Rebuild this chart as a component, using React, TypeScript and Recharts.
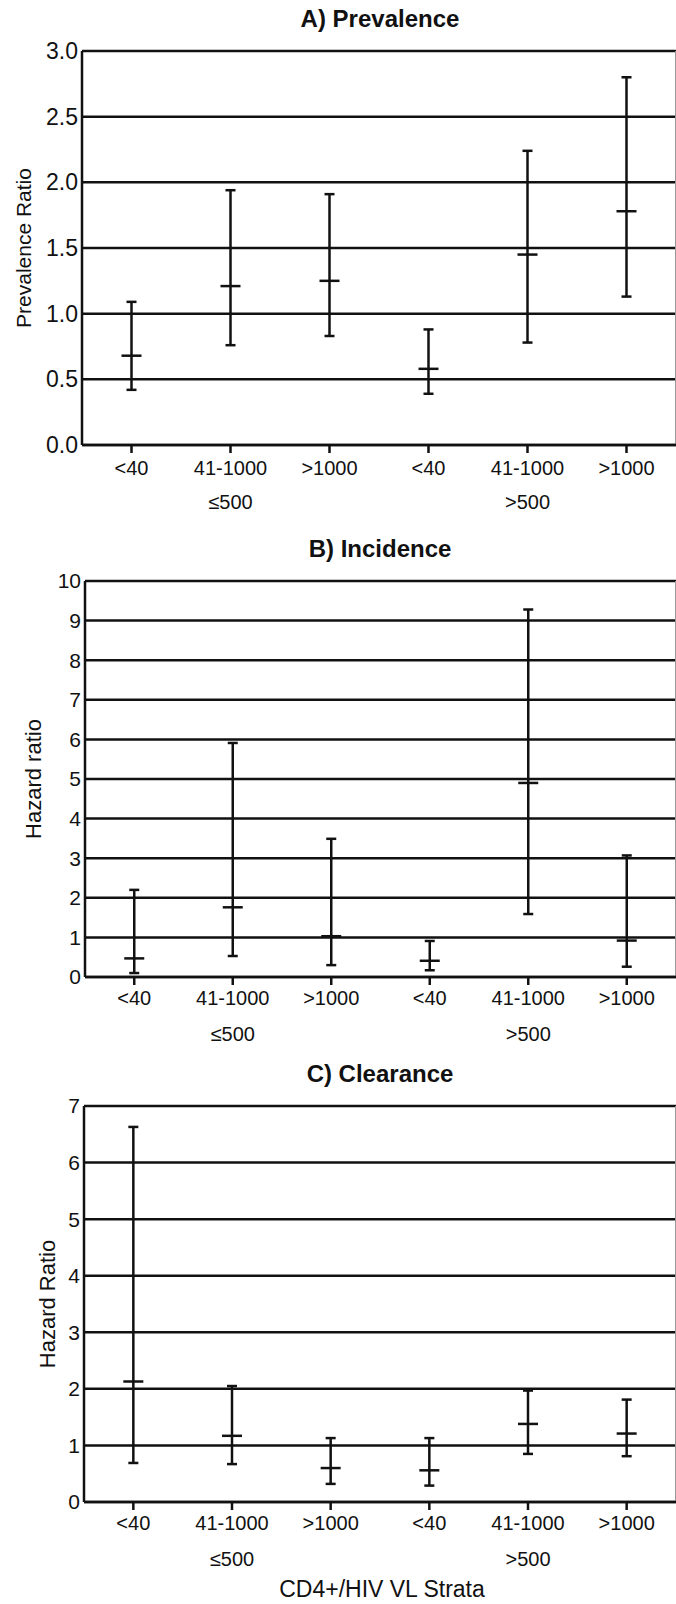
import React from 'react';
import { ComposedChart, Scatter, ErrorBar, XAxis, YAxis, CartesianGrid, ReferenceLine } from 'recharts';

// x categories: viral load strata, grouped by CD4+ count
const STRATA = ['<40', '41-1000', '>1000', '<40', '41-1000', '>1000'];
const CD4_GROUPS = ['≤500', '>500'];

// A) Prevalence ratio with 95% CI
const PREV_RATIO = [0.68, 1.21, 1.25, 0.58, 1.45, 1.78];
const PREV_LOW = [0.42, 0.76, 0.83, 0.39, 0.78, 1.13];
const PREV_HIGH = [1.09, 1.94, 1.91, 0.88, 2.24, 2.8];
const PREV_TICKS = [0, 0.5, 1, 1.5, 2, 2.5, 3];

// B) Incidence hazard ratio with 95% CI
const INC_HR = [0.47, 1.76, 1.03, 0.41, 4.9, 0.92];
const INC_LOW = [0.1, 0.53, 0.3, 0.17, 1.59, 0.26];
const INC_HIGH = [2.2, 5.91, 3.49, 0.91, 9.28, 3.07];
const INC_TICKS = [0, 1, 2, 3, 4, 5, 6, 7, 8, 9, 10];

// C) Clearance hazard ratio with 95% CI
const CLR_HR = [2.13, 1.17, 0.6, 0.56, 1.38, 1.21];
const CLR_LOW = [0.69, 0.67, 0.32, 0.29, 0.85, 0.81];
const CLR_HIGH = [6.63, 2.05, 1.13, 1.13, 1.97, 1.81];
const CLR_TICKS = [0, 1, 2, 3, 4, 5, 6, 7];

const FONT = "'Liberation Sans', Arial, Helvetica, sans-serif";
const INK = '#111';
const W = 676;
const PLOT_TOP = 51;
const X_AXIS_H = 40;
const GROUP_AXIS_H = 30;

type PanelProps = {
  top: number;
  height: number;
  plotHeight: number;
  title: string;
  yLabel: string;
  mid: number[];
  low: number[];
  high: number[];
  ticks: number[];
  decimals: number;
  yAxisWidth: number;
  yTickFont: number;
  yLabelX: number;
  yLabelFont: number;
  tickMargin: number;
  xTitle?: string;
};

function MeanMark(props: any) {
  const { cx, cy } = props;
  if (cx == null || cy == null) return null;
  return <line x1={cx - 10} x2={cx + 10} y1={cy} y2={cy} stroke={INK} strokeWidth={2.5} />;
}

function groupLabel(i: number) {
  return i % 3 === 1 ? CD4_GROUPS[Math.floor(i / 3)] : '';
}

function Panel(p: PanelProps) {
  const rows = STRATA.map((s, i) => ({
    idx: i,
    mid: p.mid[i],
    ci: [p.mid[i] - p.low[i], p.high[i] - p.mid[i]],
  }));
  const max = p.ticks[p.ticks.length - 1];
  const bottom = p.height - PLOT_TOP - p.plotHeight - X_AXIS_H - GROUP_AXIS_H;
  const yMid = PLOT_TOP + p.plotHeight / 2;

  return (
    <div style={{ position: 'absolute', left: 0, top: p.top, width: W, height: p.height }}>
      <ComposedChart
        width={W}
        height={p.height}
        data={rows}
        margin={{ top: PLOT_TOP, right: 0, left: 0, bottom }}
      >
        <CartesianGrid vertical={false} stroke={INK} strokeWidth={2.5} />
        <XAxis
          dataKey="idx"
          type="number"
          domain={[-0.5, 5.5]}
          ticks={[0, 1, 2, 3, 4, 5]}
          tickFormatter={(v) => STRATA[v]}
          height={X_AXIS_H}
          tickSize={8}
          tickMargin={p.tickMargin}
          axisLine={{ stroke: INK, strokeWidth: 2.5 }}
          tickLine={{ stroke: INK, strokeWidth: 2.5 }}
          tick={{ fill: INK, fontSize: 20, fontFamily: FONT }}
          interval={0}
        />
        <XAxis
          xAxisId="group"
          dataKey="idx"
          type="number"
          domain={[-0.5, 5.5]}
          ticks={[0, 1, 2, 3, 4, 5]}
          tickFormatter={(v) => groupLabel(v)}
          height={GROUP_AXIS_H}
          tickSize={0}
          tickMargin={10}
          axisLine={false}
          tickLine={false}
          tick={{ fill: INK, fontSize: 20, fontFamily: FONT }}
          interval={0}
        />
        <YAxis
          type="number"
          domain={[0, max]}
          ticks={p.ticks}
          tickFormatter={(v) => Number(v).toFixed(p.decimals)}
          width={p.yAxisWidth}
          tickSize={0}
          tickMargin={4}
          axisLine={{ stroke: INK, strokeWidth: 2.5 }}
          tickLine={false}
          tick={{ fill: INK, fontSize: p.yTickFont, fontFamily: FONT }}
          interval={0}
          allowDataOverflow
        />
        {/* faint right frame edge */}
        <ReferenceLine x={5.5} stroke="#999" strokeWidth={2} />
        <Scatter dataKey="mid" shape={MeanMark} isAnimationActive={false}>
          <ErrorBar
            dataKey="ci"
            direction="y"
            width={5}
            stroke={INK}
            strokeWidth={2.5}
            isAnimationActive={false}
          />
        </Scatter>
      </ComposedChart>
      <svg
        width={W}
        height={p.height}
        style={{ position: 'absolute', left: 0, top: 0, pointerEvents: 'none' }}
      >
        <text
          x={380}
          y={PLOT_TOP - 24}
          textAnchor="middle"
          fontFamily={FONT}
          fontWeight="bold"
          fontSize={24}
          fill={INK}
        >
          {p.title}
        </text>
        <text
          x={p.yLabelX}
          y={yMid}
          dy="0.35em"
          textAnchor="middle"
          fontFamily={FONT}
          fontSize={p.yLabelFont}
          fill={INK}
          transform={`rotate(-90, ${p.yLabelX}, ${yMid})`}
        >
          {p.yLabel}
        </text>
        {p.xTitle && (
          <text
            x={382}
            y={PLOT_TOP + p.plotHeight + 95}
            textAnchor="middle"
            fontFamily={FONT}
            fontSize={23}
            fill={INK}
          >
            {p.xTitle}
          </text>
        )}
      </svg>
    </div>
  );
}

export default function App() {
  return (
    <div style={{ position: 'absolute', left: 0, top: 0, width: W, height: 1604, background: '#fff' }}>
      <Panel
        top={0}
        height={530}
        plotHeight={394}
        title="A) Prevalence"
        yLabel="Prevalence Ratio"
        mid={PREV_RATIO}
        low={PREV_LOW}
        high={PREV_HIGH}
        ticks={PREV_TICKS}
        decimals={1}
        yAxisWidth={82}
        yTickFont={23}
        yLabelX={24}
        yLabelFont={21}
        tickMargin={8}
      />
      <Panel
        top={530}
        height={525}
        plotHeight={396}
        title="B) Incidence"
        yLabel="Hazard ratio"
        mid={INC_HR}
        low={INC_LOW}
        high={INC_HIGH}
        ticks={INC_TICKS}
        decimals={0}
        yAxisWidth={85}
        yTickFont={21}
        yLabelX={33}
        yLabelFont={22}
        tickMargin={6}
      />
      <Panel
        top={1055}
        height={549}
        plotHeight={396}
        title="C) Clearance"
        yLabel="Hazard Ratio"
        mid={CLR_HR}
        low={CLR_LOW}
        high={CLR_HIGH}
        ticks={CLR_TICKS}
        decimals={0}
        yAxisWidth={84}
        yTickFont={21}
        yLabelX={47}
        yLabelFont={22}
        tickMargin={6}
        xTitle="CD4+/HIV VL Strata"
      />
    </div>
  );
}
